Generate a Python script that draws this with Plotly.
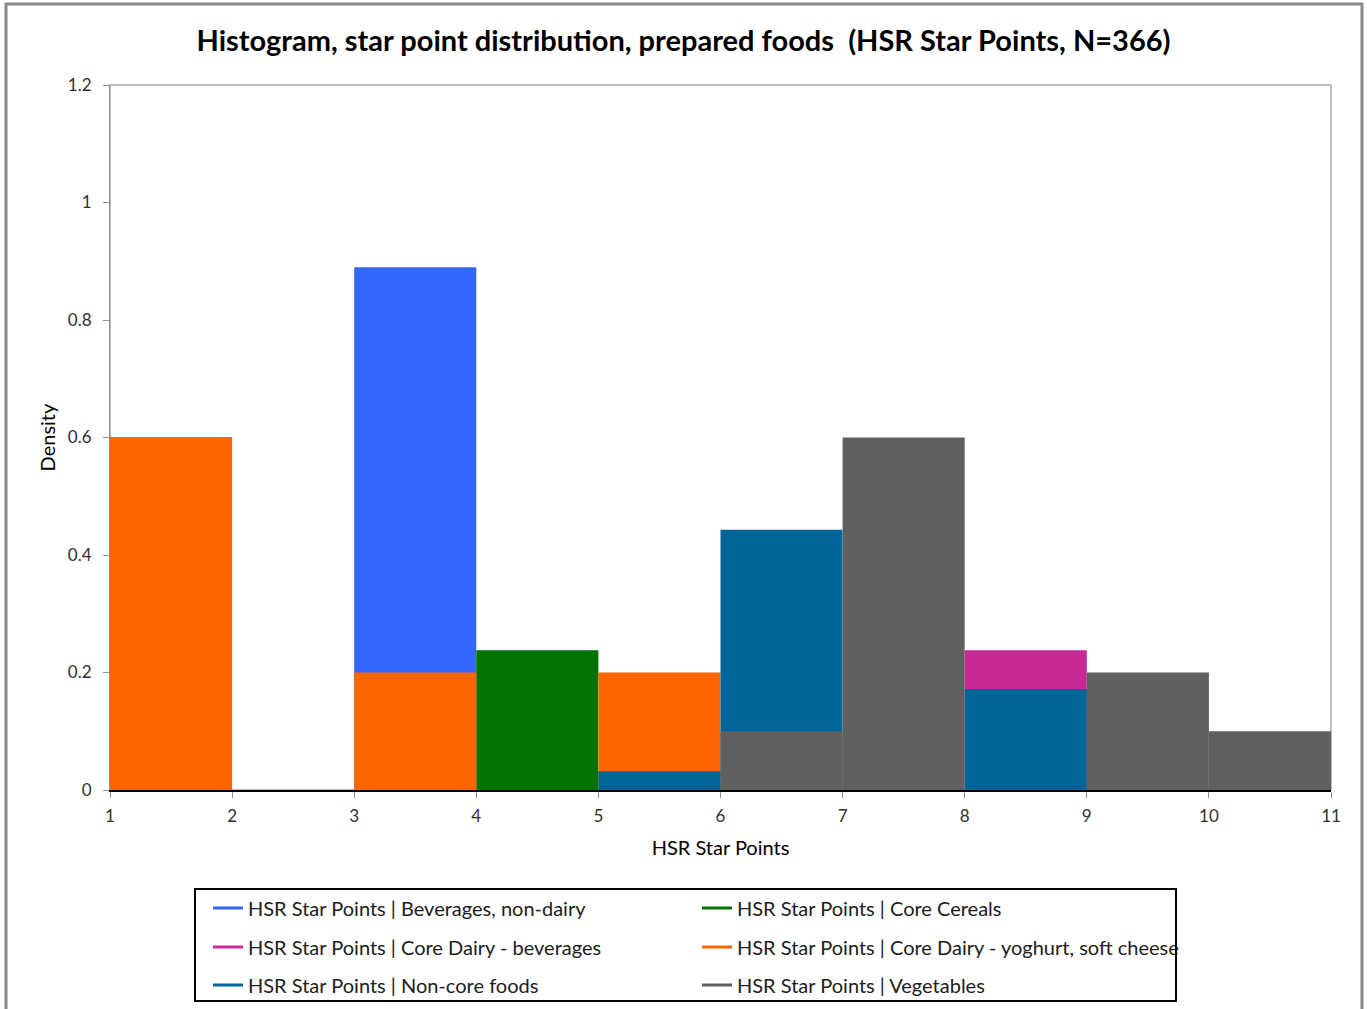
import plotly.graph_objects as go

# Histogram bins (left edge of each bin, bin width = 1 star point)
bev_bins = [3]
bev_dens = [0.89]

cereal_bins = [4]
cereal_dens = [0.238]

dairy_bev_bins = [8]
dairy_bev_dens = [0.238]

yoghurt_bins = [1, 3, 5]
yoghurt_dens = [0.601, 0.2, 0.2]

noncore_bins = [5, 6, 8]
noncore_dens = [0.032, 0.443, 0.172]

veg_bins = [6, 7, 9, 10]
veg_dens = [0.1, 0.6, 0.2, 0.1]

series = [
    ("HSR Star Points | Beverages, non-dairy", bev_bins, bev_dens, "#3366FF"),
    ("HSR Star Points | Core Cereals", cereal_bins, cereal_dens, "#007300"),
    ("HSR Star Points | Core Dairy - beverages", dairy_bev_bins, dairy_bev_dens, "#C72A96"),
    ("HSR Star Points | Core Dairy - yoghurt, soft cheese", yoghurt_bins, yoghurt_dens, "#FF6600"),
    ("HSR Star Points | Non-core foods", noncore_bins, noncore_dens, "#006699"),
    ("HSR Star Points | Vegetables", veg_bins, veg_dens, "#606060"),
]

x_ticks = list(range(1, 12))
y_ticks = [0, 0.2, 0.4, 0.6, 0.8, 1, 1.2]

fig = go.Figure()

# overlapping bars, later series drawn on top
for name, bins, dens, col in series:
    fig.add_trace(go.Bar(x=bins, y=dens, width=1, offset=0, marker_color=col,
                         marker_line_width=0, showlegend=False, name=name))

# legend entries drawn as lines, two per row (one legend per row)
legend_ids = ["legend", "legend", "legend2", "legend2", "legend3", "legend3"]
for (name, bins, dens, col), lg in zip(series, legend_ids):
    fig.add_trace(go.Scatter(x=[None], y=[None], mode="lines", name=name, legend=lg,
                             line=dict(color=col, width=3)))

W, H = 1367, 1009
L, R, T, B = 110, 1331, 85, 790
pw, ph = R - L, B - T

def px(x):
    return (x - L) / pw

def py(y):
    return (B - y) / ph

font = "Lato, 'Noto Sans', sans-serif"

def row_legend(ypix):
    return dict(orientation="h", x=px(208), y=py(ypix), xanchor="left", yanchor="middle",
                entrywidth=444, entrywidthmode="pixels", borderwidth=0,
                bgcolor="rgba(0,0,0,0)", font=dict(size=20, color="#202020"),
                traceorder="normal")

fig.update_layout(
    width=W, height=H,
    margin=dict(l=L, r=W - R, t=T, b=H - B, autoexpand=False),
    paper_bgcolor="white", plot_bgcolor="white",
    barmode="overlay",
    font=dict(family=font, color="#202020"),
    title=dict(text="<b>Histogram, star point distribution, prepared foods  (HSR Star Points, N=366)</b>",
               x=0.5, xref="container", xanchor="center", y=1 - 41 / H, yanchor="middle",
               font=dict(size=29, color="black")),
    xaxis=dict(range=[1, 11], tickvals=x_ticks, showgrid=False, zeroline=False,
               showline=True, linecolor="black", linewidth=2,
               ticks="outside", ticklen=6, tickcolor="#909090",
               ticklabelstandoff=4,
               tickfont=dict(size=17, color="#303030"),
               title=dict(text="HSR Star Points", font=dict(size=20, color="black"), standoff=16)),
    yaxis=dict(range=[0, 1.2], tickvals=y_ticks, ticktext=["0", "0.2", "0.4", "0.6", "0.8", "1", "1.2"],
               showgrid=False, zeroline=False,
               showline=True, linecolor="#909090", linewidth=1,
               ticks="outside", ticklen=6, tickcolor="#909090",
               ticklabelstandoff=8,
               tickfont=dict(size=17, color="#303030"),
               title=dict(text="Density", font=dict(size=20, color="black"), standoff=6)),
    legend=row_legend(908),
    legend2=row_legend(947),
    legend3=row_legend(985),
    shapes=[
        # plot area border
        dict(type="rect", xref="paper", yref="paper", x0=0, x1=1, y0=0, y1=1,
             line=dict(color="#A8A8A8", width=1.5), layer="below"),
        # legend box
        dict(type="rect", xref="paper", yref="paper", x0=px(195), x1=px(1176),
             y0=py(1001), y1=py(889), line=dict(color="black", width=2)),
        # chart area border
        dict(type="rect", xref="paper", yref="paper", x0=px(6), x1=px(1362),
             y0=py(1015), y1=py(4), line=dict(color="#8A8A8A", width=3)),
    ],
)

fig.write_html("out.html", config={"displayModeBar": False},
               post_script="document.body.style.margin='0px';")
